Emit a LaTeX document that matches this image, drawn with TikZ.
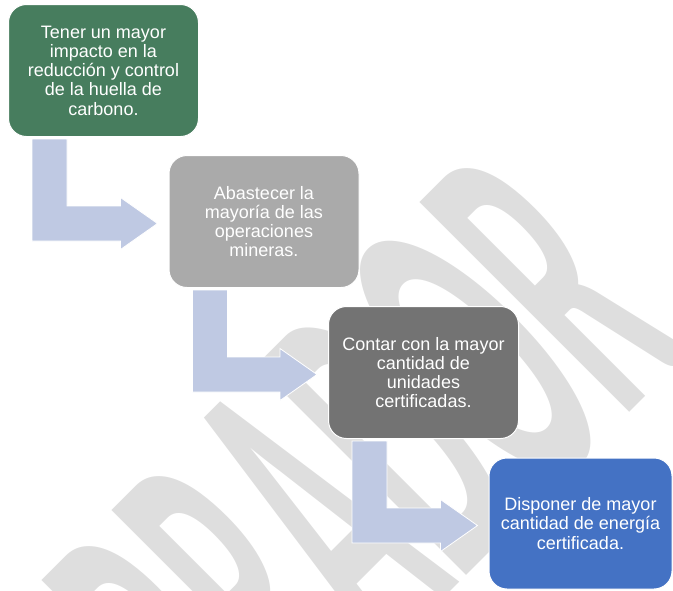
\documentclass[tikz,border=0pt]{standalone}
\usepackage{fontspec}
\setmainfont{Liberation Sans}
\newfontfamily\wmfont{Carlito}
\usetikzlibrary{calc}
\definecolor{boxgreen}{HTML}{477D5E}
\definecolor{boxlgray}{HTML}{AAAAAA}
\definecolor{boxdgray}{HTML}{737373}
\definecolor{boxblue}{HTML}{4472C4}
\definecolor{arrowblue}{HTML}{BFC9E3}
\definecolor{wmgray}{HTML}{DEDEDE}
\tikzset{
  stepbox/.style={rounded corners=18pt, draw=white, line width=1pt,
    minimum width=190pt, minimum height=132pt, text=white, align=center,
    font=\fontsize{18}{19.2}\selectfont, inner sep=0pt},
  arrowfill/.style={fill=arrowblue, draw=white, line width=0.8pt},
  wm/.style={text=wmgray, font=\wmfont\bfseries\fontsize{176}{176}\selectfont, inner sep=0pt}
}
\newcommand{\bentarrow}[3]{%
  \coordinate (#3a) at ($(#1.south west)+(24,2)$);
  \coordinate (#3t) at ($(#2.west)+(-11,2)$);
  \coordinate (#3b) at ($(#3t)+(-37,0)$);
  \path[arrowfill] (#3a) -- ++(35,0) |- ($(#3b)+(0,-17.5)$)
    -- ($(#3b)+(0,-26)$) -- (#3t) -- ($(#3b)+(0,26)$)
    -- ($(#3b)+(0,17.5)$) -| (#3a) -- cycle;
}
\begin{document}
\begin{tikzpicture}[x=1pt,y=-1pt]
\useasboundingbox (0,0) rectangle (673,590);
\begin{scope}
\clip (0,0) rectangle (673,590);
\node[wm, rotate=45, yscale=2.6, anchor=base west] (wm) at (90,952) {BORRADOR};
\end{scope}
\node[stepbox, fill=boxgreen] (s1) at (103.5,70.5)
  {Tener un mayor\\impacto en la\\reducción y control\\de la huella de\\carbono.};
\node[stepbox, fill=boxlgray] (s2) at (264,221.5)
  {Abastecer la\\mayoría de las\\operaciones\\mineras.};
\node[stepbox, fill=boxdgray] (s3) at (423.5,372.5)
  {Contar con la mayor\\cantidad de\\unidades\\certificadas.};
\node[stepbox, fill=boxblue, minimum width=183pt, minimum height=131pt] (s4) at (580.5,523.5)
  {Disponer de mayor\\cantidad de energía\\certificada.};
\bentarrow{s1}{s2}{ab}
\bentarrow{s2}{s3}{bc}
\bentarrow{s3}{s4}{cd}
\end{tikzpicture}
\end{document}
